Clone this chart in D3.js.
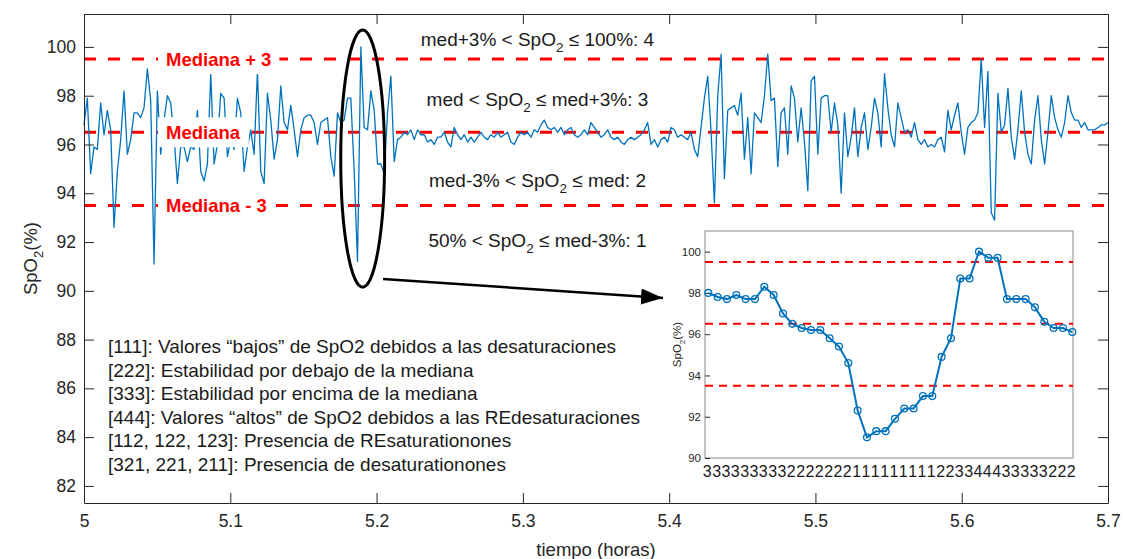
<!DOCTYPE html>
<html>
<head>
<meta charset="utf-8">
<script src="https://cdn.jsdelivr.net/npm/d3@7"></script>
<style>
  body { margin: 0; background: #fff; }
  svg text { font-family: Arial, "Liberation Sans", sans-serif; }
</style>
</head>
<body>
<svg id="chart" width="1125" height="559"></svg>
<script>
// main record: SpO2 samples, evenly spaced from startHour to endHour
var startHour = 5, endHour = 5.7
var spo2 = [
  96.8,97.9,94.8,95.9,95.8,97.7,96.4,97.4,96.6,92.6,94.9,96.2,98.2,95.6,96.2,97.3,97.3,97.1,97.5,99.1,
  97.8,91.1,98.2,95.6,97.0,98.0,97.7,96.3,94.4,95.9,95.9,95.3,95.9,95.8,97.4,94.9,94.5,95.2,98.9,95.2,
  96.0,98.1,97.9,95.5,96.2,95.8,97.9,97.3,94.9,95.9,96.6,95.6,99.0,
  94.9,94.4,98.1,97.0,95.4,96.2,98.4,96.9,96.6,97.6,96.6,95.5,96.6,97.1,97.2,97.2,96.9,96.0,96.9,97.0,
  97.1,95.5,94.7,97.3,96.9,97.0,97.9,97.9,94.9,91.2,100.0,96.7,96.6,98.2,97.4,95.2,95.2,94.8,97.3,98.8,
  95.3,96.2,96.3,96.5,96.4,96.6,96.2,96.6,96.4,96.4,96.1,
  96.2,96.0,96.3,96.3,96.5,96.1,95.9,96.7,96.4,96.2,96.4,96.1,96.3,96.1,96.3,96.5,96.3,96.2,96.4,96.3,
  96.5,96.3,96.4,96.5,96.1,96.0,96.3,96.5,96.4,96.5,96.3,96.6,96.5,96.8,97.0,96.7,96.6,96.7,96.5,96.7,
  96.4,96.6,96.7,96.4,96.3,96.4,96.6,96.4,96.9,96.7,96.5,
  96.3,96.4,96.6,96.3,96.2,96.3,96.1,96.0,96.2,96.3,96.2,96.3,96.4,96.6,96.9,96.0,96.2,95.9,96.2,96.3,
  96.1,96.7,96.6,96.3,96.4,96.3,96.2,96.5,95.8,95.5,96.7,97.9,98.8,96.5,93.6,98.0,99.7,94.6,97.4,97.5,
  97.6,97.2,98.1,95.4,97.1,94.8,97.3,97.1,96.9,98.0,99.7,
  97.8,97.9,95.1,97.3,97.5,95.6,98.4,97.9,96.1,97.5,96.1,94.1,98.6,98.8,95.6,97.9,98.0,98.0,96.5,97.7,
  96.8,94.0,97.3,95.5,96.3,97.5,95.5,96.7,97.3,95.8,96.7,97.9,97.3,95.9,98.9,97.5,96.4,95.9,97.7,97.1,
  96.5,96.6,96.3,96.9,96.2,96.0,96.2,95.9,96.0,95.9,96.2,
  96.3,95.7,97.4,96.6,97.2,97.7,96.5,95.6,96.7,96.9,97.0,97.3,99.5,96.7,99.0,93.2,92.9,98.1,96.5,96.8,
  98.3,96.3,95.4,96.6,98.2,96.5,95.6,95.2,97.0,98.0,96.2,95.2,96.5,98.0,97.1,96.6,96.3,96.9,98.0,97.3,
  97.0,97.0,96.7,96.9,96.6,96.6,96.6,96.7,96.8,96.8,96.9
]
var levels = [99.5, 96.5, 93.5]
var levelNames = ["Mediana + 3", "Mediana", "Mediana - 3"]
var xTicks = [5, 5.1, 5.2, 5.3, 5.4, 5.5, 5.6, 5.7]
var yTicks = [82, 84, 86, 88, 90, 92, 94, 96, 98, 100]

// the zoomed desaturation (one sample per second) and its symbol codes
var zoomSpo2 = [98.0,97.8,97.7,97.9,97.7,97.7,98.3,97.9,97.0,96.5,96.3,96.2,96.2,95.8,95.4,94.6,92.3,91.0,91.3,91.3,
                91.9,92.4,92.4,93.0,93.0,94.9,95.8,98.7,98.7,100.0,99.7,99.7,97.7,97.7,97.7,97.3,96.6,96.3,96.3,96.1]
var zoomCodes = "3333333332222222111111111223344433333222".split("")
var zoomTicks = [90, 92, 94, 96, 98, 100]

var regionPre = ["med+3% < SpO", "med < SpO", "med-3% < SpO", "50% < SpO"]
var regionPost = [" \u2264 100%: 4", " \u2264 med+3%: 3", " \u2264 med: 2", " \u2264 med-3%: 1"]
var regionY = [46, 106, 187, 247]

var legendLines = [
  "[111]: Valores \u201cbajos\u201d de SpO2 debidos a las desaturaciones",
  "[222]: Estabilidad por debajo de la mediana",
  "[333]: Estabilidad por encima de la mediana",
  "[444]: Valores \u201caltos\u201d de SpO2 debidos a las REdesaturaciones",
  "[112, 122, 123]: Presencia de REsaturationones",
  "[321, 221, 211]: Presencia de desaturationones"
]

var blue = "#0072BD", red = "#FF0000", ink = "#262626"
var svg = d3.select("#chart")
var L = 84, R = 1108, T = 14, B = 503

var x = d3.scaleLinear().domain([startHour, endHour]).range([L, R])
var y = d3.scaleLinear().domain([81.3, 101.35]).range([B, T])
var times = spo2.map(function(v, i) { return startHour + i * (endHour - startHour) / (spo2.length - 1) })

// median +/- 3 reference lines
svg.selectAll(".lvl").data(levels).enter().append("line")
  .attr("x1", L).attr("x2", R)
  .attr("y1", function(d) { return y(d) }).attr("y2", function(d) { return y(d) })
  .attr("stroke", red).attr("stroke-width", 3).attr("stroke-dasharray", "12,12")

// signal
svg.append("path").datum(spo2)
  .attr("fill", "none").attr("stroke", blue).attr("stroke-width", 1.3)
  .attr("stroke-linejoin", "round")
  .attr("d", d3.line().x(function(d, i) { return x(times[i]) }).y(function(d) { return y(d) }))

// level names on white boxes
levels.forEach(function(lv, i) {
  var g = svg.append("g")
  var r = g.append("rect").attr("fill", "#fff")
  var t = g.append("text").attr("x", 166).attr("y", y(lv) + 6.5)
    .attr("font-size", 18.5).attr("font-weight", "bold").attr("fill", red).text(levelNames[i])
  var bb = t.node().getBBox()
  r.attr("x", bb.x - 8).attr("width", bb.width + 16).attr("y", y(lv) - 15).attr("height", 30)
})

// region descriptions
regionPre.forEach(function(p, i) {
  var t = svg.append("text").attr("x", x(5.31)).attr("y", regionY[i])
    .attr("text-anchor", "middle").attr("font-size", 19).attr("fill", "#1a1a1a")
  t.append("tspan").text(p)
  t.append("tspan").attr("dy", 6).attr("font-size", 13.5).text("2")
  t.append("tspan").attr("dy", -6).text(regionPost[i])
})

// legend of symbol triplets
svg.selectAll(".leg").data(legendLines).enter().append("text")
  .attr("x", 108).attr("y", function(d, i) { return 353 + i * 23.6 })
  .attr("font-size", 19).attr("fill", "#1a1a1a").text(function(d) { return d })

// axes, MATLAB style box with inward ticks
function styleAxis(g, fs) {
  g.selectAll(".domain").attr("stroke", ink)
  g.selectAll(".tick line").attr("stroke", ink)
  g.selectAll(".tick text").attr("fill", ink).attr("font-size", fs).attr("font-family", "Arial, 'Liberation Sans', sans-serif")
}
var fmtX = function(d) { return d === 5 ? "5" : d3.format(".1f")(d) }
styleAxis(svg.append("g").attr("transform", "translate(0," + B + ")")
  .call(d3.axisBottom(x).tickValues(xTicks).tickFormat(fmtX).tickSize(-10).tickSizeOuter(0).tickPadding(12)), 17.5)
styleAxis(svg.append("g").attr("transform", "translate(0," + T + ")")
  .call(d3.axisTop(x).tickValues(xTicks).tickFormat("").tickSize(-10).tickSizeOuter(0)), 17)
styleAxis(svg.append("g").attr("transform", "translate(" + L + ",0)")
  .call(d3.axisLeft(y).tickValues(yTicks).tickSize(-10).tickSizeOuter(0).tickPadding(8)), 17.5)
styleAxis(svg.append("g").attr("transform", "translate(" + R + ",0)")
  .call(d3.axisRight(y).tickValues(yTicks).tickFormat("").tickSize(-10).tickSizeOuter(0)), 17)

svg.append("text").attr("x", (L + R) / 2).attr("y", 556).attr("text-anchor", "middle")
  .attr("font-size", 18.5).attr("fill", ink).text("tiempo (horas)")
var yl = svg.append("text").attr("transform", "translate(37," + ((T + B) / 2) + ") rotate(-90)")
  .attr("text-anchor", "middle").attr("font-size", 18.5).attr("fill", ink)
yl.append("tspan").text("SpO")
yl.append("tspan").attr("dy", 6).attr("font-size", 13).text("2")
yl.append("tspan").attr("dy", -6).text("(%)")

// ellipse around the zoomed event and the arrow to the inset
svg.append("ellipse").attr("cx", x(5.1905)).attr("cy", y(95.42))
  .attr("rx", x(5.015) - x(5)).attr("ry", y(90.15) - y(95.42))
  .attr("fill", "none").attr("stroke", "#000").attr("stroke-width", 3)
svg.append("defs").append("marker").attr("id", "head")
  .attr("markerUnits", "userSpaceOnUse").attr("markerWidth", 24).attr("markerHeight", 18)
  .attr("refX", 22).attr("refY", 8).attr("orient", "auto")
  .append("path").attr("d", "M0,0 L22,8 L0,16 Z").attr("fill", "#000")
svg.append("line").attr("x1", 383).attr("y1", 279).attr("x2", 663).attr("y2", 298)
  .attr("stroke", "#000").attr("stroke-width", 2.5).attr("marker-end", "url(#head)")

// inset
var IL = 705, IR = 1073, IT = 231, IB = 458
var ix = d3.scaleLinear().domain([0, zoomSpo2.length - 1]).range([708.3, 1072.3])
var iy = d3.scaleLinear().domain([90, 101]).range([IB, IT])
svg.append("rect").attr("x", IL).attr("y", IT).attr("width", IR - IL).attr("height", IB - IT)
  .attr("fill", "#fff").attr("stroke", "#8a8a8a").attr("stroke-width", 1)
var iax = svg.append("g").attr("transform", "translate(" + IL + ",0)")
  .call(d3.axisLeft(iy).tickValues(zoomTicks).tickSize(-5).tickSizeOuter(0).tickPadding(4))
iax.select(".domain").remove()
iax.selectAll(".tick line").attr("stroke", ink)
iax.selectAll(".tick text").attr("fill", ink).attr("font-size", 11.5).attr("font-family", "Arial, 'Liberation Sans', sans-serif")
svg.selectAll(".ilvl").data(levels).enter().append("line")
  .attr("x1", IL).attr("x2", IR)
  .attr("y1", function(d) { return iy(d) }).attr("y2", function(d) { return iy(d) })
  .attr("stroke", red).attr("stroke-width", 2).attr("stroke-dasharray", "8,6")
svg.append("path").datum(zoomSpo2)
  .attr("fill", "none").attr("stroke", blue).attr("stroke-width", 2)
  .attr("d", d3.line().x(function(d, i) { return ix(i) }).y(function(d) { return iy(d) }))
svg.selectAll(".mk").data(zoomSpo2).enter().append("circle")
  .attr("cx", function(d, i) { return ix(i) }).attr("cy", function(d) { return iy(d) })
  .attr("r", 3.4).attr("fill", "none").attr("stroke", blue).attr("stroke-width", 1.3)
svg.selectAll(".code").data(zoomCodes).enter().append("text")
  .attr("x", function(d, i) { return ix(i) - 1 }).attr("y", 477)
  .attr("text-anchor", "middle").attr("font-size", 16).attr("fill", "#1a1a1a")
  .text(function(d) { return d })
var il = svg.append("text").attr("transform", "translate(681," + ((IT + IB) / 2) + ") rotate(-90)")
  .attr("text-anchor", "middle").attr("font-size", 11.5).attr("fill", ink)
il.append("tspan").text("SpO")
il.append("tspan").attr("dy", 4).attr("font-size", 8).text("2")
il.append("tspan").attr("dy", -4).text("(%)")
</script>
</body>
</html>
